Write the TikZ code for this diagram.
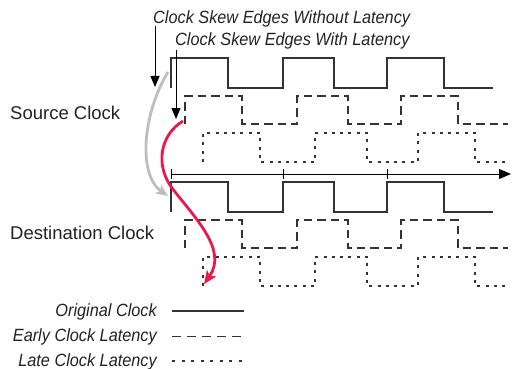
\documentclass[tikz,border=0pt]{standalone}
\usepackage{fontspec}
\setmainfont{Liberation Sans}
\newfontfamily\condit[FakeStretch=0.92]{Liberation Sans Italic}
\usetikzlibrary{arrows.meta}
\definecolor{wave}{HTML}{333333}
\definecolor{txt}{HTML}{222222}
\definecolor{skewred}{HTML}{E8194D}
\definecolor{skewgray}{HTML}{BDBEC0}
\tikzset{
  orig/.style={draw=wave, line width=1.4pt},
  early/.style={draw=wave, line width=1.3pt, dash pattern=on 8.5pt off 5pt},
  late/.style={draw=wave, line width=1.3pt, dash pattern=on 3pt off 5.3pt},
  lbl/.style={inner sep=0pt, text=txt, font=\fontsize{18.5}{20}\selectfont},
  ilbl/.style={inner sep=0pt, text=txt, font=\condit\fontsize{17.7}{19}\selectfont},
  blackarrow/.style={draw=black, line width=0.9pt, -{Triangle[length=11pt,width=9pt]}},
}
\begin{document}
\begin{tikzpicture}[x=1pt,y=-1pt]
\useasboundingbox (0,0) rectangle (514,369);
% labels
\node[ilbl, anchor=base west] (t1) at (153,23.3) {Clock Skew Edges Without Latency};
\node[ilbl, anchor=base west] (t2) at (175,46) {Clock Skew Edges With Latency};
\node[lbl, anchor=base west] (src) at (10,119.3) {Source Clock};
\node[lbl, anchor=base west] (dst) at (10,239.3) {Destination Clock};
% source waveforms
\draw[orig] (171,88) -- (171,58) -- (228,58) -- (228,88) -- (283,88) -- (283,58) -- (334,58) -- (334,88) -- (387,88) -- (387,58) -- (444,58) -- (444,88) -- (493,88);
\draw[early] (185,124) -- (185,96) -- (242,96) -- (242,124) -- (297,124) -- (297,96) -- (348,96) -- (348,124) -- (401,124) -- (401,96) -- (458,96) -- (458,124) -- (508,124);
\draw[late] (203,162) -- (203,133) -- (260,133) -- (260,162) -- (315,162) -- (315,133) -- (367,133) -- (367,162) -- (418,162) -- (418,133) -- (475,133) -- (475,162) -- (510,162);
% destination waveforms
\begin{scope}[yshift=-124pt]
\draw[orig] (171,88) -- (171,58) -- (228,58) -- (228,88) -- (283,88) -- (283,58) -- (334,58) -- (334,88) -- (387,88) -- (387,58) -- (444,58) -- (444,88) -- (493,88);
\draw[early] (185,124) -- (185,96) -- (242,96) -- (242,124) -- (297,124) -- (297,96) -- (348,96) -- (348,124) -- (401,124) -- (401,96) -- (458,96) -- (458,124) -- (508,124);
\draw[late] (203,162) -- (203,133) -- (260,133) -- (260,162) -- (315,162) -- (315,133) -- (367,133) -- (367,162) -- (418,162) -- (418,133) -- (475,133) -- (475,162) -- (510,162);
\end{scope}
% time axis
\coordinate (ax0) at (171,174);
\coordinate (ax1) at (511,174);
\draw[line width=0.9pt, -{Triangle[length=12pt,width=10pt]}] (ax0) -- (ax1);
\foreach \tx in {171,283,387} \draw[line width=0.9pt] (\tx,169) -- (\tx,179);
% skew arrows
\coordinate (a1s) at (155,26);
\coordinate (a1e) at (155,87);
\coordinate (a2s) at (176,50);
\coordinate (a2e) at (176,119);
\draw[blackarrow] (a1s) -- (a1e);
\draw[blackarrow] (a2s) -- (a2e);
\coordinate (gs) at (168,72);
\coordinate (ge) at (168,196);
\draw[draw=skewgray, line width=2.8pt, -{Stealth[length=12pt,width=10pt,inset=3pt]}] (gs) .. controls (142,115) and (138,175) .. (ge);
\coordinate (rs) at (183,121);
\coordinate (rm) at (172,188);
\coordinate (re) at (204,284);
\draw[draw=skewred, line width=2.8pt, -{Stealth[length=13pt,width=11pt,inset=3pt]}] (rs) .. controls (160,135) and (155,165) .. (rm) .. controls (195,218) and (228,250) .. (re);
% legend
\node[ilbl, anchor=base east] (l1) at (157,316.7) {Original Clock};
\node[ilbl, anchor=base east] (l2) at (157,341) {Early Clock Latency};
\node[ilbl, anchor=base east] (l3) at (157,366) {Late Clock Latency};
\coordinate (l1a) at (172,311); \coordinate (l1b) at (244,311);
\coordinate (l2a) at (172,336.5); \coordinate (l2b) at (245,336.5);
\coordinate (l3a) at (172,361); \coordinate (l3b) at (243,361);
\draw[orig] (l1a) -- (l1b);
\draw[early, dash pattern=on 9pt off 6pt] (l2a) -- (l2b);
\draw[late, dash pattern=on 3pt off 6.5pt] (l3a) -- (l3b);
\end{tikzpicture}
\end{document}
